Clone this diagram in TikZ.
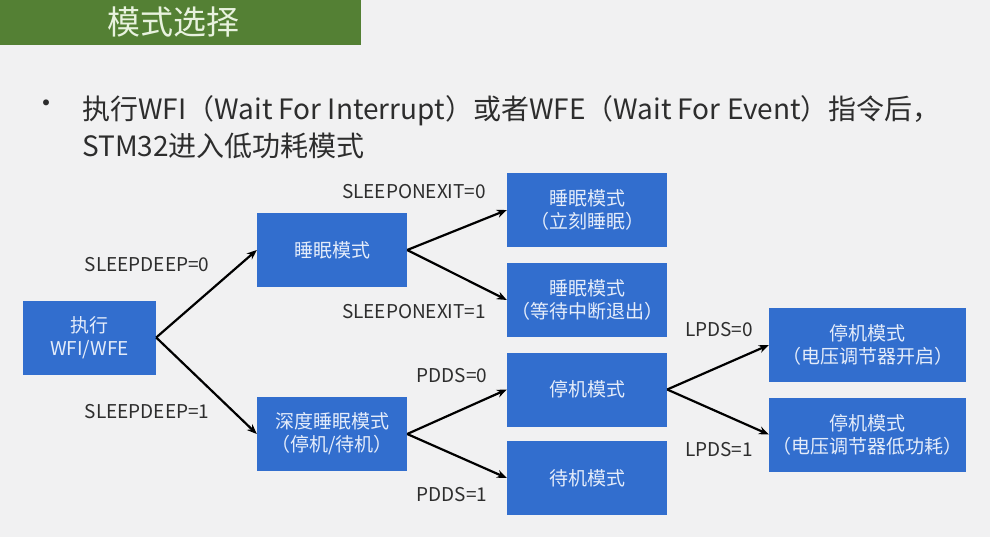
\documentclass[tikz,border=0pt]{standalone}
\usepackage{fontspec}
\setmainfont{Noto Sans CJK SC}
\usetikzlibrary{positioning}
\usetikzlibrary{arrows.meta}
\definecolor{pagegray}{RGB}{241,241,242}
\definecolor{titlegreen}{RGB}{84,128,52}
\definecolor{titletext}{RGB}{232,242,222}
\definecolor{modeblue}{RGB}{50,110,206}
\definecolor{modetext}{RGB}{228,236,250}
\definecolor{labeltext}{RGB}{45,45,45}

\begin{document}
\begin{tikzpicture}[x=1pt, y=-1pt,
                          modenode/.style={rectangle, fill=modeblue, text=modetext, align=center, minimum height=74pt, inner sep=0pt, font=\fontsize{19}{23}\selectfont},
                          flaglabel/.style={text=labeltext, inner sep=0pt, font=\fontsize{19}{22}\selectfont},
                          modearrow/.style={-{Stealth[length=10pt, width=8pt]}, line width=2.2pt, black},
                      ]
                      % background and title bar
                      \fill[pagegray] (0,0) rectangle (990,537);
                      \useasboundingbox (0,0) rectangle (990,537);
                      \fill[titlegreen] (0,0) rectangle (361,45);
                      \node[text=titletext, font=\fontsize{33}{36}\selectfont] (title) at (173,22) {模式选择};

                      %   %Text
                      \node[text=labeltext, font=\fontsize{28}{28}\selectfont] (dot) at (46,107) {•};
                      \node[text=labeltext, anchor=west, align=left, inner sep=0pt, font=\fontsize{28}{37}\selectfont] (intro) at (82,127)
                          {执行WFI（Wait For Interrupt）或者WFE（Wait For Event）指令后，\\STM32进入低功耗模式};

                      %               %Nodes
                      \node[modenode, minimum width=133pt] (wfi)      at (89.5,337.5) {执行\\WFI/WFE};
                      \node[modenode, minimum width=150pt] (sleep)    at (332,250)    {睡眠模式};
                      \node[modenode, minimum width=150pt] (deep)     at (332,434)    {深度睡眠模式\\（停机/待机）};
                      \node[modenode, minimum width=160pt] (sleepnow) at (587,210)    {睡眠模式\\（立刻睡眠）};
                      \node[modenode, minimum width=160pt] (sleepexit) at (587,300)   {睡眠模式\\（等待中断退出）};
                      \node[modenode, minimum width=160pt] (stop)     at (587,389.5)  {停机模式};
                      \node[modenode, minimum width=160pt] (standby)  at (587,478)    {待机模式};
                      \node[modenode, minimum width=197pt] (stopon)   at (867.5,345)  {停机模式\\（电压调节器开启）};
                      \node[modenode, minimum width=197pt] (stoplp)   at (867.5,434.5) {停机模式\\（电压调节器低功耗）};

                      %   %Labels
                      \node[flaglabel] (sd0)  at (147,265) {SLEEPDEEP=0};
                      \node[flaglabel] (sd1)  at (147,412) {SLEEPDEEP=1};
                      \node[flaglabel] (soe0) at (414,192) {SLEEPONEXIT=0};
                      \node[flaglabel] (soe1) at (414,312) {SLEEPONEXIT=1};
                      \node[flaglabel] (pd0)  at (452,376) {PDDS=0};
                      \node[flaglabel] (pd1)  at (452,495) {PDDS=1};
                      \node[flaglabel] (lp0)  at (719,330) {LPDS=0};
                      \node[flaglabel] (lp1)  at (719,450) {LPDS=1};

                      %   %Lines
                      \draw[modearrow] (wfi.east) -- (sleep.west);
                      \draw[modearrow] (wfi.east) -- (deep.west);
                      \draw[modearrow] (sleep.east) -- (sleepnow.west);
                      \draw[modearrow] (sleep.east) -- (sleepexit.west);
                      \draw[modearrow] (deep.east) -- (stop.west);
                      \draw[modearrow] (deep.east) -- (standby.west);
                      \draw[modearrow] (stop.east) -- (stopon.west);
                      \draw[modearrow] (stop.east) -- (stoplp.west);
                  \end{tikzpicture}
\end{document}
